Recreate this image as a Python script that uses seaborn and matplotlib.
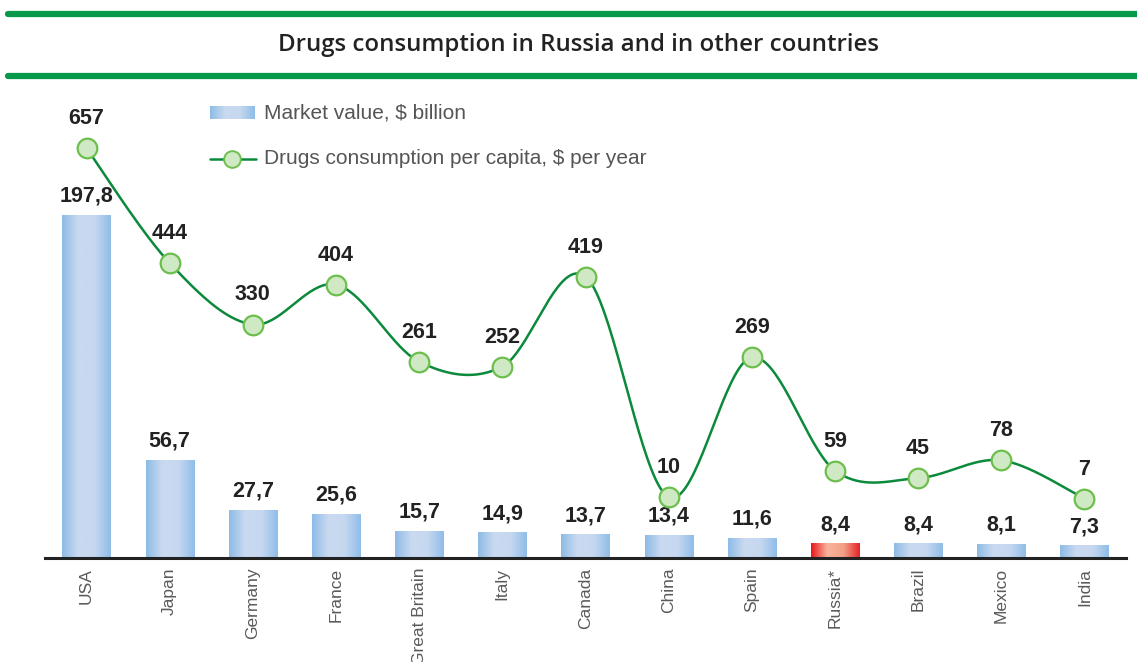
import numpy as np
import pandas as pd
import matplotlib.pyplot as plt
import seaborn as sns
from matplotlib.colors import LinearSegmentedColormap
from matplotlib.lines import Line2D

countries = ["USA", "Japan", "Germany", "France", "Great Britain", "Italy", "Canada",
             "China", "Spain", "Russia*", "Brazil", "Mexico", "India"]
market_value = [197.8, 56.7, 27.7, 25.6, 15.7, 14.9, 13.7, 13.4, 11.6, 8.4, 8.4, 8.1, 7.3]
per_capita = [657, 444, 330, 404, 261, 252, 419, 10, 269, 59, 45, 78, 7]

sns.set_style("white")
plt.rcParams['font.family'] = ['Liberation Sans', 'DejaVu Sans']

fig = plt.figure(figsize=(11.37, 6.62), dpi=100)
ax = fig.add_axes([45 / 1137, 104 / 662, 1081 / 1137, 458 / 662])

df = pd.DataFrame({"country": countries, "value": market_value})
sns.barplot(data=df, x="country", y="value", ax=ax, width=0.58, color="#aecbec")

blue = LinearSegmentedColormap.from_list("b", ["#8dbbe6", "#c9daf0", "#c6d8f0", "#8fbde8"])
red = LinearSegmentedColormap.from_list("r", ["#e6161b", "#f9b39b", "#f3a088", "#e6222a"])
grad = np.linspace(0, 1, 256).reshape(1, -1)
for p, c in zip(ax.patches, countries):
    x, w, h = p.get_x(), p.get_width(), p.get_height()
    im = ax.imshow(grad, cmap=red if c == "Russia*" else blue, aspect="auto",
                   extent=[x, x + w, 0, h], zorder=2)
    im.set_clip_path(p)
    p.set_facecolor("none")
    p.set_edgecolor("none")

for p, v in zip(ax.patches, market_value):
    ax.annotate(f"{v:.1f}".replace(".", ","), (p.get_x() + p.get_width() / 2, p.get_height()),
                xytext=(0, 9.4), textcoords="offset points", ha="center", va="baseline",
                fontsize=15.5, fontweight="bold", color="#222222")

ax.set_xlim(-0.5, 12.5)
ax.set_ylim(0, 264)
for s in ["top", "left", "right"]:
    ax.spines[s].set_visible(False)
ax.spines["bottom"].set_linewidth(2.2)
ax.spines["bottom"].set_color("#222222")
ax.set_yticks([])
ax.set_xlabel("")
ax.set_ylabel("")
ax.set_xticks(np.arange(-0.5, 13, 1))
ax.set_xticklabels([])
ax.set_xticks(np.arange(len(countries)), minor=True)
ax.set_xticklabels(countries, minor=True, rotation=90, fontsize=12.5, color="#5a5a5a")
ax.tick_params(axis="x", which="major", direction="inout", length=12, width=2, color="#222222")
ax.tick_params(axis="x", which="minor", length=0, pad=7)

# smoothed line (Catmull-Rom through the points)
ax2 = ax.twinx()
xs = np.arange(len(per_capita), dtype=float)
ys = np.array(per_capita, dtype=float)
px = np.concatenate([[xs[0]], xs, [xs[-1]]])
py = np.concatenate([[ys[0]], ys, [ys[-1]]])
cx, cy = [], []
t = np.linspace(0, 1, 40)
for i in range(1, len(px) - 2):
    for arr, out in ((px, cx), (py, cy)):
        p0, p1, p2, p3 = arr[i - 1], arr[i], arr[i + 1], arr[i + 2]
        m1, m2 = (p2 - p0) / 2, (p3 - p1) / 2
        h00 = 2 * t**3 - 3 * t**2 + 1
        h10 = t**3 - 2 * t**2 + t
        h01 = -2 * t**3 + 3 * t**2
        h11 = t**3 - t**2
        out.extend(h00 * p1 + h10 * m1 + h01 * p2 + h11 * m2)
ax2.plot(cx, cy, color="#0b8a3c", lw=1.8, zorder=3)
sns.scatterplot(x=xs, y=ys, ax=ax2, s=200, color="#cfe9c4", edgecolor="#6cbf4c",
                linewidth=1.6, zorder=4)
for x, v in zip(xs, per_capita):
    ax2.annotate(str(v), (x, v), xytext=(0, 17.3), textcoords="offset points",
                 ha="center", va="baseline", fontsize=15.5, fontweight="bold", color="#222222")
ax2.set_ylim(-103.2, 746.6)
ax2.set_yticks([])
for s in ax2.spines.values():
    s.set_visible(False)

# title and green rules
fig.text(0.509, 0.932, "Drugs consumption in Russia and in other countries",
         ha="center", va="center", fontsize=17.3, fontweight=600, color="#222222",
         family=["Open Sans", "Liberation Sans", "DejaVu Sans"])
for yy in (14, 76):
    fig.add_artist(Line2D([0.007, 1.0], [1 - yy / 662] * 2, transform=fig.transFigure,
                          color="#07994a", lw=4.5))

# legend
lax = fig.add_axes([210 / 1137, (662 - 119) / 662, 45 / 1137, 13 / 662])
lax.imshow(grad, cmap=blue, aspect="auto")
lax.axis("off")
fig.text(264 / 1137, 1 - 113 / 662, "Market value, $ billion", va="center",
         fontsize=15, color="#555555")
fig.add_artist(Line2D([210 / 1137, 256 / 1137], [1 - 159 / 662] * 2, transform=fig.transFigure,
                      color="#0b8a3c", lw=1.8))
fig.add_artist(Line2D([232 / 1137], [1 - 159 / 662], transform=fig.transFigure, marker="o",
                      markersize=12, markerfacecolor="#cfe9c4", markeredgecolor="#6cbf4c",
                      markeredgewidth=1.4))
fig.text(264 / 1137, 1 - 159 / 662, "Drugs consumption per capita, $ per year", va="center",
         fontsize=15, color="#555555")

fig.savefig("out.png", dpi=100)
